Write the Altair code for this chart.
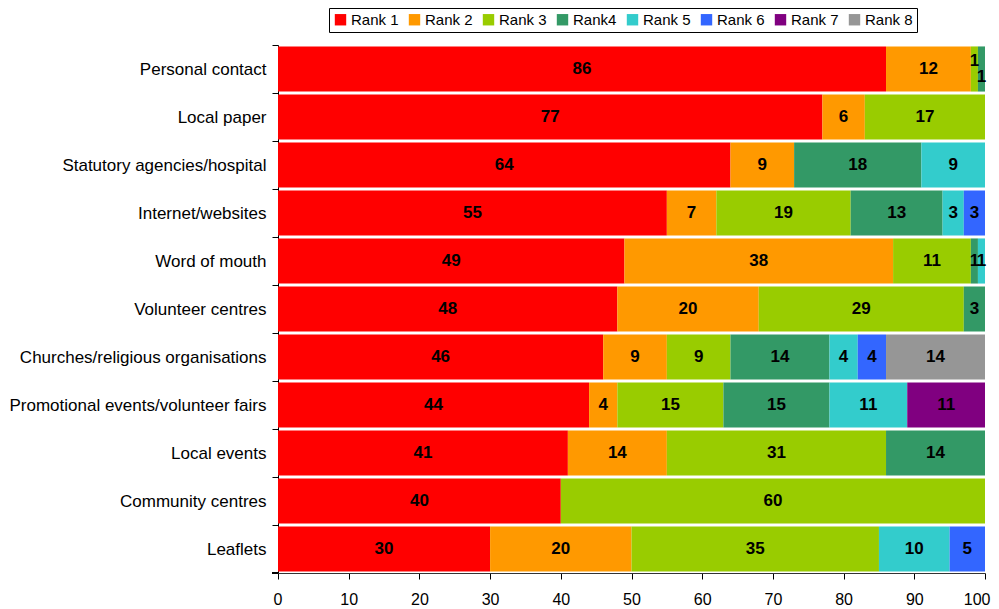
import altair as alt
import pandas as pd

categories = ["Personal contact", "Local paper", "Statutory agencies/hospital",
              "Internet/websites", "Word of mouth", "Volunteer centres",
              "Churches/religious organisations", "Promotional events/volunteer fairs",
              "Local events", "Community centres", "Leaflets"]
ranks = ["Rank 1", "Rank 2", "Rank 3", "Rank4", "Rank 5", "Rank 6", "Rank 7", "Rank 8"]
colors = ["#FF0000", "#FF9900", "#99CC00", "#339966", "#33CCCC", "#3366FF", "#800080", "#969696"]

rank1 = [86, 77, 64, 55, 49, 48, 46, 44, 41, 40, 30]
rank2 = [12, 6, 9, 7, 38, 20, 9, 4, 14, 0, 20]
rank3 = [1, 17, 0, 19, 11, 29, 9, 15, 31, 60, 35]
rank4 = [1, 0, 18, 13, 1, 3, 14, 15, 14, 0, 0]
rank5 = [0, 0, 9, 3, 1, 0, 4, 11, 0, 0, 10]
rank6 = [0, 0, 0, 3, 0, 0, 4, 0, 0, 0, 5]
rank7 = [0, 0, 0, 0, 0, 0, 0, 11, 0, 0, 0]
rank8 = [0, 0, 0, 0, 0, 0, 14, 0, 0, 0, 0]
series = [rank1, rank2, rank3, rank4, rank5, rank6, rank7, rank8]

rows = []
for ri, (rk, vals) in enumerate(zip(ranks, series)):
    for ci, (cat, v) in enumerate(zip(categories, vals)):
        if v > 0:
            rows.append({"cat": cat, "rank": rk, "ri": ri, "value": v})
df = pd.DataFrame(rows)

FONT = "Liberation Sans"
W, H = 707, 528

base = alt.Chart(df).transform_stack(
    stack="value", groupby=["cat"], as_=["x0", "x1"], sort=[alt.SortField("ri")]
).transform_calculate(mid="(datum.x0 + datum.x1) / 2")

y_enc = alt.Y("cat:N", sort=categories, title=None,
              scale=alt.Scale(paddingInner=0.06, paddingOuter=0.03),
              axis=alt.Axis(domain=True, domainColor="black", ticks=True, tickColor="black",
                            tickSize=6, bandPosition=0, tickOffset=-1.5, labelOffset=1.5,
                            labelFontSize=17, labelFont=FONT,
                            labelColor="black", labelPadding=6, labelLimit=400))

bars = base.mark_bar().encode(
    x=alt.X("x0:Q", scale=alt.Scale(domain=[0, 100], nice=False), title=None,
            axis=alt.Axis(values=list(range(0, 101, 10)), grid=False, labelFontSize=16,
                          labelFont=FONT, labelColor="black", tickSize=6, tickColor="black",
                          domainColor="#333333", labelPadding=12, labelFlush=True,
                          labelFlushOffset=5)),
    x2="x1:Q",
    y=y_enc,
    color=alt.Color("rank:N", scale=alt.Scale(domain=ranks, range=colors),
                    legend=alt.Legend(title=None, orient="none", direction="horizontal",
                                      columns=8, legendX=51, legendY=-37,
                                      symbolType="square", symbolSize=130,
                                      symbolStrokeWidth=0, labelFontSize=15, labelFont=FONT,
                                      labelColor="black", strokeColor="black",
                                      padding=4, columnPadding=8, labelOffset=3)),
)

bottom_tick = alt.Chart(df).mark_rule(color="black").encode(
    x=alt.value(-6), x2=alt.value(0), y=alt.value(H)
)

is_special = "datum.cat == 'Personal contact' && (datum.ri == 2 || datum.ri == 3)"

text_main = base.mark_text(fontWeight="bold", fontSize=17, font=FONT, color="black").encode(
    x="mid:Q", y=alt.Y("cat:N", sort=categories), text="value:Q"
).transform_filter("!(" + is_special + ")")

text_up = base.mark_text(fontWeight="bold", fontSize=17, font=FONT, color="black", dy=-8).encode(
    x="mid:Q", y=alt.Y("cat:N", sort=categories), text="value:Q"
).transform_filter("datum.cat == 'Personal contact' && datum.ri == 2")

text_dn = base.mark_text(fontWeight="bold", fontSize=17, font=FONT, color="black", dy=8).encode(
    x="mid:Q", y=alt.Y("cat:N", sort=categories), text="value:Q"
).transform_filter("datum.cat == 'Personal contact' && datum.ri == 3")

chart = alt.layer(bars, text_main, text_up, text_dn, bottom_tick).properties(
    width=W, height=H,
    autosize=alt.AutoSizeParams(type="none"),
    padding={"left": 270, "top": 37, "right": 6, "bottom": 36},
    background="white",
).configure_view(stroke=None)

chart.save("out.html", embed_options={"renderer": "svg", "actions": False})
